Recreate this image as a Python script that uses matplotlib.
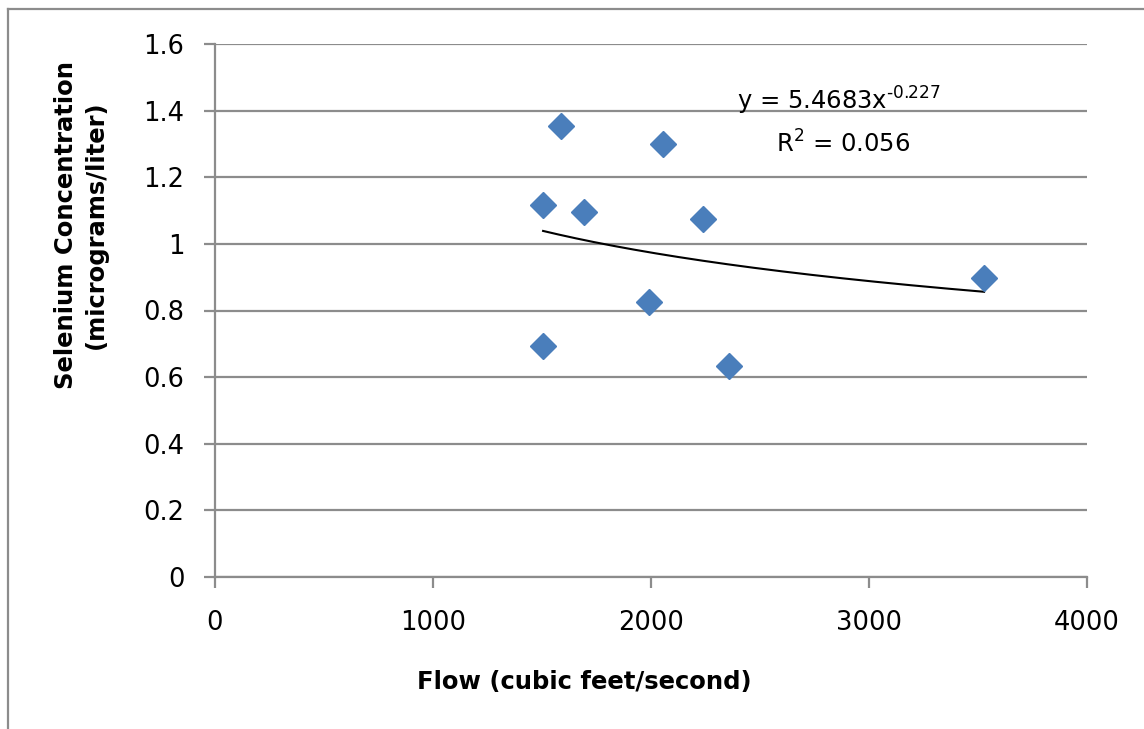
import numpy as np
import matplotlib
matplotlib.use("Agg")
import matplotlib.pyplot as plt
from matplotlib.lines import Line2D

# data
flow = [1505, 1587, 1693, 2055, 2239, 1991, 1505, 2358, 3528]
selenium = [1.117, 1.354, 1.096, 1.300, 1.075, 0.826, 0.693, 0.633, 0.898]

# Excel power trendline as printed on the chart
coef_a = 5.4683
coef_b = -0.227

x_ticks = [0, 1000, 2000, 3000, 4000]
y_ticks = [0, 0.2, 0.4, 0.6, 0.8, 1.0, 1.2, 1.4, 1.6]
y_tick_labels = ["0", "0.2", "0.4", "0.6", "0.8", "1", "1.2", "1.4", "1.6"]

GRID = "#8c8c8c"
BLUE = "#4a7ebb"

fig = plt.figure(figsize=(11.44, 7.29), dpi=100)
ax = fig.add_axes([215 / 1144, 1 - 577 / 729, 872 / 1144, 533 / 729])

ax.set_xlim(0, 4000)
ax.set_ylim(0, 1.6)
ax.set_xticks(x_ticks)
ax.set_yticks(y_ticks)
ax.set_yticklabels(y_tick_labels)
ax.grid(True, axis="y", color=GRID, lw=1.6)
ax.set_axisbelow(True)
for s in ["top", "right"]:
    ax.spines[s].set_visible(False)
for s in ["left", "bottom"]:
    ax.spines[s].set_color(GRID)
    ax.spines[s].set_linewidth(1.6)
ax.tick_params(axis="both", colors=GRID, labelcolor="black", width=1.6,
               length=8, labelsize=18.5)
ax.tick_params(axis="y", pad=14)
ax.tick_params(axis="x", pad=16)

# trendline over the data range
xs = np.linspace(min(flow), max(flow), 200)
ax.plot(xs, coef_a * xs ** coef_b, color="black", lw=1.5, zorder=3)

ax.plot(flow, selenium, ls="none", marker="D", ms=13, color=BLUE,
        markeredgecolor=BLUE, zorder=4, clip_on=False)

ax.text(2862, 1.43, r"y = 5.4683x$^{\text{-0.227}}$", fontsize=17.5, ha="center", va="center")
ax.text(2882, 1.30, r"R$^{\text{2}}$ = 0.056", fontsize=17.5, ha="center", va="center")

fig.text(584 / 1144, 1 - 682 / 729, "Flow (cubic feet/second)", fontsize=17.5,
         fontweight="bold", ha="center", va="center")
fig.text(81 / 1144, 1 - 225 / 729, "Selenium Concentration\n(micrograms/liter)",
         rotation=90, fontsize=17.5, fontweight="bold", ha="center", va="center",
         linespacing=1.3)

# outer chart frame
fig.add_artist(Line2D([8 / 1144, 8 / 1144], [0, 1 - 9 / 729], transform=fig.transFigure,
                      color="#8c8c8c", lw=1.6))
fig.add_artist(Line2D([8 / 1144, 1], [1 - 9 / 729, 1 - 9 / 729], transform=fig.transFigure,
                      color="#8c8c8c", lw=1.6))

fig.savefig("out.png", dpi=100)
